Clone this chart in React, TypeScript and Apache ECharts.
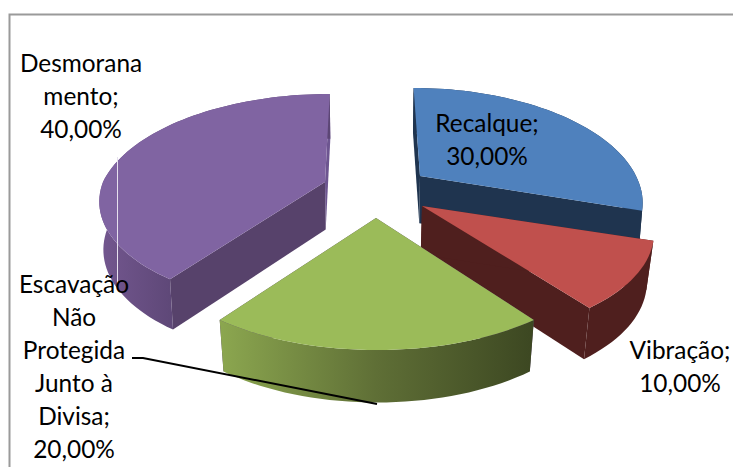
import React, { useEffect, useRef } from "react";
import * as echarts from "echarts";

const categories = ["Recalque", "Vibração", "Escavação Não Protegida Junto à Divisa", "Desmoranamento"];
const values = [30, 10, 20, 40];
const labelLines = [["Recalque;"], ["Vibração;"], ["Escavação", "Não", "Protegida", "Junto à", "Divisa;"], ["Desmorana", "mento;"]];
const labelAnchors = [[487, 106], [680, 333], [74, 267], [81, 46]];
const apexes = [[420, 176], [422, 206], [376, 218], [325, 182]];
const sliceRx = [216, 225, 224, 222];
const sliceFrontPersp = [0.2, 0.2, 0.2, 0.15];
const sliceBackLean = [0.8, 1, 1, 0.6];
const sliceDropScale = [0.985, 0.975, 0.975, 0.985];
const drawOrder = [0, 1, 3, 2];
const topColors = ["#4f81bd", "#c0504d", "#9bbb59", "#8064a2"];
const startWallColors = ["#1f344f", "#4f1f1e", "#57426b", "#57426b"];
const endWallColors = ["#1f344f", "#4f1f1e", "#57426b", "#6d5590"];
const rimStops: [number, number, string[]][] = [
  [400, 650, ["#1f344f", "#1f344f"]],
  [420, 650, ["#4f1f1e", "#4f1f1e"]],
  [222, 530, ["#8ba64f", "#5f6f36", "#3d4822"]],
  [100, 180, ["#73578f", "#5c4675"]],
];

const VANISH_X = 372;
const RY = 105.6;
const BACK_PERSP = 0.2;

function projectTop(i: number, deg: number) {
  const [cx, cy] = apexes[i];
  const t = (deg * Math.PI) / 180;
  const c = Math.cos(t);
  const s = 1 / (1 + (c > 0 ? BACK_PERSP : sliceFrontPersp[i]) * c);
  const lean = (cx - VANISH_X) * (c > 0 ? sliceBackLean[i] : 1);
  return [cx + sliceRx[i] * Math.sin(t) * s + lean * (s - 1), cy - RY * c * s];
}
function drop(p: number[], i: number) {
  return [VANISH_X + (p[0] - VANISH_X) * sliceDropScale[i], p[1] + 48 + (p[1] - 200) * 0.03];
}

const total = values.reduce((a, b) => a + b, 0);
let acc = 0;
const spans = values.map((v) => {
  const start = (acc / total) * 360;
  acc += v;
  return [start, (acc / total) * 360];
});

export default function App() {
  const ref = useRef<HTMLDivElement>(null);
  useEffect(() => {
    document.body.style.margin = "0";
    const chart = echarts.init(ref.current!, null, { renderer: "svg" });
    const labels = labelLines.map((lines, i) => ({
      type: "text",
      z: 10,
      style: {
        text: [...lines, values[i].toFixed(2).replace(".", ",") + "%"].join("\n"),
        x: labelAnchors[i][0],
        y: labelAnchors[i][1],
        textAlign: "center",
        textVerticalAlign: "top",
        fontFamily: "Lato",
        fontSize: 24.4,
        lineHeight: 33,
        fill: "#000",
      },
    }));
    chart.setOption({
      animation: false,
      backgroundColor: "#ffffff",
      series: [
        {
          type: "custom",
          coordinateSystem: "none",
          silent: true,
          name: "Causas",
          data: drawOrder.map((i) => ({ name: categories[i], value: [i, spans[i][0], spans[i][1]] })),
          renderItem: (_p: any, api: any) => {
            const i = api.value(0);
            const a0 = api.value(1);
            const a1 = api.value(2);
            const arc: number[][] = [];
            for (let d = a0; d <= a1 + 1e-6; d += 2) arc.push(projectTop(i, d));
            const apex = apexes[i];
            const apexB = drop(apex, i);
            const arcB = arc.map((p) => drop(p, i));
            const first = arc[0];
            const last = arc[arc.length - 1];
            const [gx0, gx1, stops] = rimStops[i];
            const rimFill = new echarts.graphic.LinearGradient(
              gx0, 0, gx1, 0,
              stops.map((c, k) => ({ offset: k / (stops.length - 1), color: c })),
              true
            );
            return {
              type: "group",
              children: [
                { type: "polygon", shape: { points: [apex, last, drop(last, i), apexB] }, style: { fill: endWallColors[i] } },
                { type: "polygon", shape: { points: [apex, first, drop(first, i), apexB] }, style: { fill: startWallColors[i] } },
                { type: "polygon", shape: { points: [...arc, ...arcB.slice().reverse()] }, style: { fill: rimFill } },
                { type: "polygon", shape: { points: [apex, ...arc] }, style: { fill: topColors[i] } },
              ],
            };
          },
        },
      ],
      graphic: [
        { type: "polyline", z: 9, shape: { points: [[9.5, 470], [9.5, 14.5], [733, 14.5]] }, style: { fill: "none", stroke: "#9a9a9a", lineWidth: 2 } },
        { type: "line", z: 9, shape: { x1: 117.5, y1: 157, x2: 117.5, y2: 285 }, style: { stroke: "#e6e0ee", lineWidth: 1 } },
        { type: "polyline", z: 9, shape: { points: [[132, 358], [143, 358], [377, 404]] }, style: { fill: "none", stroke: "#000", lineWidth: 2 } },
        ...labels,
      ],
    });
    return () => chart.dispose();
  }, []);
  return <div ref={ref} style={{ width: 733, height: 467 }} />;
}
